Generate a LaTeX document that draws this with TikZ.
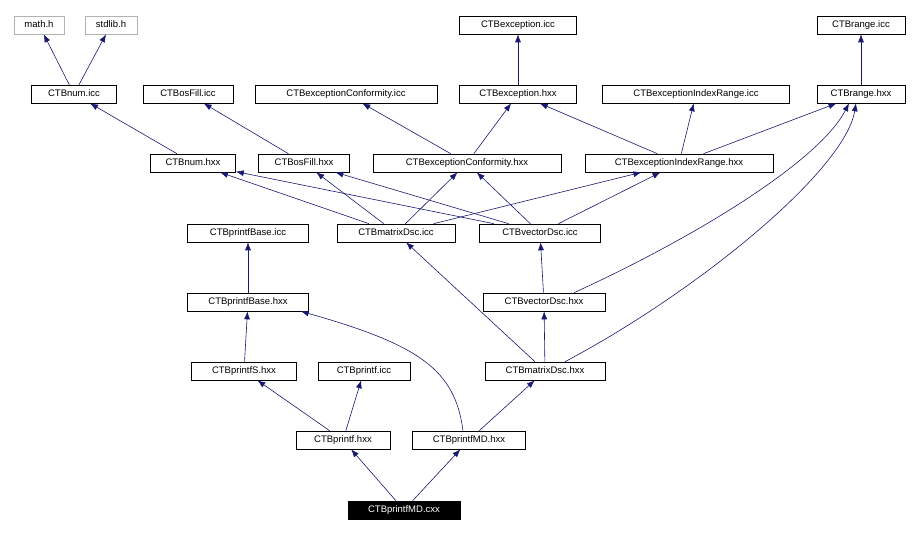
\documentclass[tikz,border=0pt]{standalone}
\usepackage{fontspec}
\setmainfont{Liberation Sans}
\usetikzlibrary{arrows.meta}
\begin{document}
\begin{tikzpicture}[x=1pt,y=-1pt,
  n/.style={draw=black,fill=white,minimum height=18pt,inner sep=0pt,text height=7pt,text depth=2pt,font=\fontsize{9.5}{10}\selectfont,line width=0.6pt},
  g/.style={n,draw=gray!60},
  r/.style={n,fill=black,text=white},
  e/.style={draw=navy,line width=0.6pt,-{Latex[length=8pt,width=6pt]}}]
\definecolor{navy}{HTML}{191970}
\useasboundingbox (0,0) rectangle (921,534);
\node[g,minimum width=50pt] (math) at (39,25) {math.h};
\node[g,minimum width=52pt] (stdlib) at (111,25) {stdlib.h};
\node[n,minimum width=117pt] (exicc) at (518,25) {CTBexception.icc};
\node[n,minimum width=88pt] (rgicc) at (861,25) {CTBrange.icc};
\node[n,minimum width=85pt] (numicc) at (74,94) {CTBnum.icc};
\node[n,minimum width=90pt] (osicc) at (188,94) {CTBosFill.icc};
\node[n,minimum width=182pt] (ecicc) at (346,94) {CTBexceptionConformity.icc};
\node[n,minimum width=117pt] (exhxx) at (518,94) {CTBexception.hxx};
\node[n,minimum width=187pt] (eiicc) at (696,94) {CTBexceptionIndexRange.icc};
\node[n,minimum width=88pt] (rghxx) at (861,94) {CTBrange.hxx};
\node[n,minimum width=85pt] (numhxx) at (193,163) {CTBnum.hxx};
\node[n,minimum width=91pt] (oshxx) at (304,163) {CTBosFill.hxx};
\node[n,minimum width=188pt] (echxx) at (467,163) {CTBexceptionConformity.hxx};
\node[n,minimum width=188pt] (eihxx) at (679,163) {CTBexceptionIndexRange.hxx};
\node[n,minimum width=121pt] (pbicc) at (248,233) {CTBprintfBase.icc};
\node[n,minimum width=118pt] (mdicc) at (396,233) {CTBmatrixDsc.icc};
\node[n,minimum width=121pt] (vdicc) at (540,233) {CTBvectorDsc.icc};
\node[n,minimum width=121pt] (pbhxx) at (248,302) {CTBprintfBase.hxx};
\node[n,minimum width=122pt] (vdhxx) at (544,302) {CTBvectorDsc.hxx};
\node[n,minimum width=105pt] (pshxx) at (244,371) {CTBprintfS.hxx};
\node[n,minimum width=92pt] (pficc) at (364,371) {CTBprintf.icc};
\node[n,minimum width=120pt] (mdhxx) at (545,371) {CTBmatrixDsc.hxx};
\node[n,minimum width=94pt] (pfhxx) at (343,440) {CTBprintf.hxx};
\node[n,minimum width=113pt] (pmhxx) at (469,440) {CTBprintfMD.hxx};
\node[r,minimum width=112pt] (cxx) at (404,510) {CTBprintfMD.cxx};

\draw[e] (numicc) -- (math);
\draw[e] (numicc) -- (stdlib);
\draw[e] (exhxx) -- (exicc);
\draw[e] (rghxx) -- (rgicc);
\draw[e] (numhxx) -- (numicc);
\draw[e] (oshxx) -- (osicc);
\draw[e] (echxx) -- (ecicc);
\draw[e] (echxx) -- (exhxx);
\draw[e] (eihxx) -- (exhxx);
\draw[e] (eihxx) -- (eiicc);
\draw[e] (eihxx) -- (rghxx);
\draw[e] (mdicc) -- (numhxx);
\draw[e] (mdicc) -- (oshxx);
\draw[e] (mdicc) -- (echxx);
\draw[e] (mdicc) -- (eihxx);
\draw[e] (vdicc) -- (numhxx);
\draw[e] (vdicc) -- (oshxx);
\draw[e] (vdicc) -- (echxx);
\draw[e] (vdicc) -- (eihxx);
\draw[e] (pbhxx) -- (pbicc);
\draw[e] (vdhxx) -- (vdicc);
\draw[e] ([xshift=30pt]vdhxx.north) .. controls (700,235) and (820,160) .. ([xshift=-12pt]rghxx.south);
\draw[e] (pshxx) -- (pbhxx);
\draw[e] (mdhxx) -- (mdicc);
\draw[e] (mdhxx) -- (vdhxx);
\draw[e] ([xshift=20pt]mdhxx.north) .. controls (700,290) and (845,170) .. ([xshift=-5pt]rghxx.south);
\draw[e] (pfhxx) -- (pshxx);
\draw[e] (pfhxx) -- (pficc);
\draw[e] ([xshift=-6pt]pmhxx.north) .. controls (455,370) and (420,345) .. ([xshift=-8pt]pbhxx.south east);
\draw[e] (pmhxx) -- (mdhxx);
\draw[e] (cxx) -- (pfhxx);
\draw[e] (cxx) -- (pmhxx);
\end{tikzpicture}
\end{document}
